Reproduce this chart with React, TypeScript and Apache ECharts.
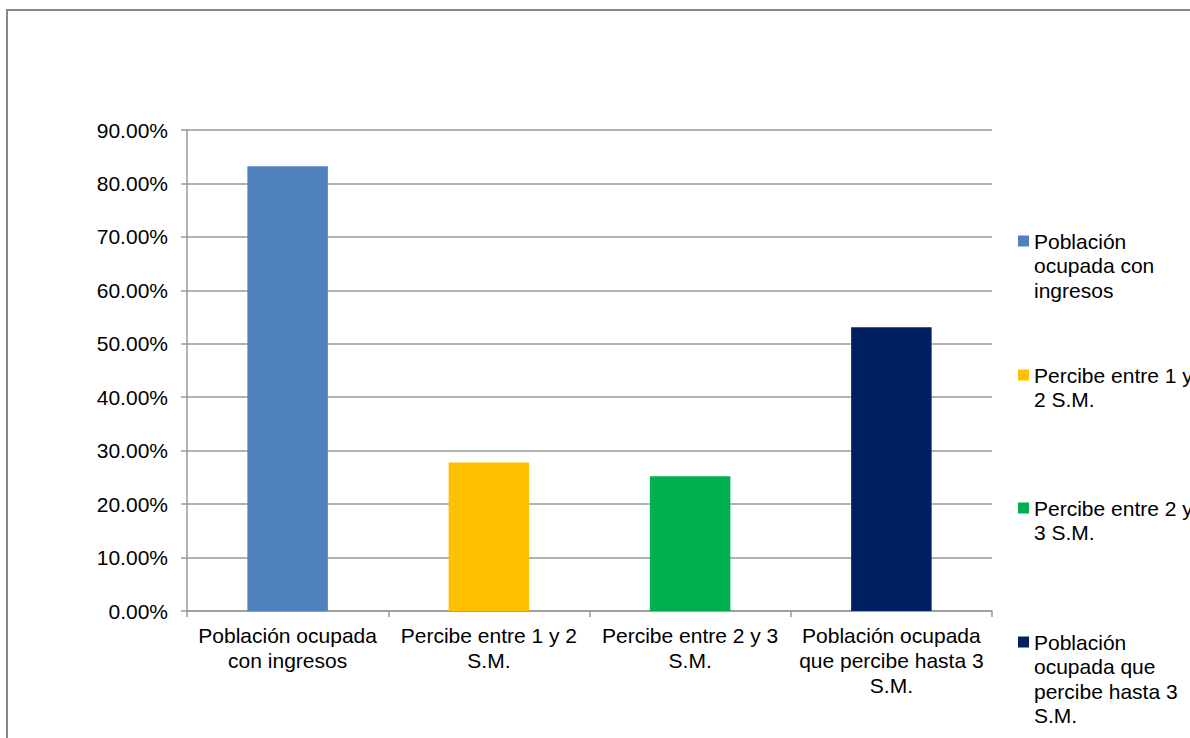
import React, { useEffect, useRef } from "react";
import * as echarts from "echarts";

const seriesNames = [
  "Población ocupada con ingresos",
  "Percibe entre 1 y 2 S.M.",
  "Percibe entre 2 y 3 S.M.",
  "Población ocupada que percibe hasta 3 S.M.",
];
const axisLabels = [
  "Población ocupada\ncon ingresos",
  "Percibe entre 1 y 2\nS.M.",
  "Percibe entre 2 y 3\nS.M.",
  "Población ocupada\nque percibe hasta 3\nS.M.",
];
const legendLabels = [
  "Población\nocupada con\ningresos",
  "Percibe entre 1 y\n2 S.M.",
  "Percibe entre 2 y\n3 S.M.",
  "Población\nocupada que\npercibe hasta 3\nS.M.",
];
const values = [0.832, 0.278, 0.252, 0.531];
const colors = ["#4F81BD", "#FFC000", "#00B050", "#002060"];
const yTicks = { min: 0, max: 0.9, interval: 0.1 };

const FONT = "Liberation Sans, Arial, Helvetica, sans-serif";
const FS = 21;
const LH = 24.5;
const legendFirstLineY = [241, 375, 508, 642];

export default function App() {
  const ref = useRef<HTMLDivElement>(null);
  useEffect(() => {
    document.body.style.margin = "0";
    const chart = echarts.init(ref.current!, null, { renderer: "svg" });
    const series = seriesNames.map((name, i) => ({
      name,
      type: "bar",
      stack: "all",
      barWidth: "40%",
      itemStyle: { color: colors[i] },
      data: values.map((v, j) => (j === i ? v : null)),
    }));
    const legends = seriesNames.map((name, i) => {
      const lines = legendLabels[i].split("\n");
      const n = lines.length;
      // leading blank lines so that the icon sits beside the first text line
      const text = Array(n - 1).fill(" ").concat(lines).join("\n");
      return {
        data: [name],
        orient: "vertical",
        left: 1018,
        top: legendFirstLineY[i] - (n - 1) * LH - LH / 2,
        padding: 0,
        icon: "rect",
        itemWidth: 11,
        itemHeight: 11,
        selectedMode: false,
        formatter: () => text,
        textStyle: {
          fontFamily: FONT,
          fontSize: FS,
          color: "#000",
          lineHeight: LH,
        },
      };
    });
    chart.setOption({
      animation: false,
      backgroundColor: "#fff",
      textStyle: { fontFamily: FONT },
      graphic: [
        {
          type: "rect",
          shape: { x: 7, y: 10, width: 1400, height: 1000 },
          style: { fill: "none", stroke: "#878787", lineWidth: 2 },
          silent: true,
        },
      ],
      legend: legends,
      grid: { left: 187, top: 130, right: 198, bottom: 127, containLabel: false },
      xAxis: {
        type: "category",
        data: axisLabels,
        boundaryGap: true,
        axisLine: { lineStyle: { color: "#999", width: 1.5 } },
        axisTick: { show: true, length: 6, alignWithLabel: false, lineStyle: { color: "#999", width: 1.5 } },
        axisLabel: {
          interval: 0,
          margin: 12,
          fontSize: FS,
          lineHeight: 25,
          color: "#000",
          fontFamily: FONT,
          align: "center",
        },
      },
      yAxis: {
        type: "value",
        min: yTicks.min,
        max: yTicks.max,
        interval: yTicks.interval,
        axisLine: { show: true, lineStyle: { color: "#999", width: 1.5 } },
        axisTick: { show: true, length: 6, lineStyle: { color: "#999", width: 1.5 } },
        splitLine: { show: true, lineStyle: { color: "#999", width: 1.5 } },
        axisLabel: {
          margin: 19,
          fontSize: FS,
          color: "#000",
          fontFamily: FONT,
          formatter: (v: number) => (v * 100).toFixed(2) + "%",
        },
      },
      series,
    });
    return () => chart.dispose();
  }, []);
  return <div ref={ref} style={{ width: 1190, height: 738, overflow: "hidden" }} />;
}
